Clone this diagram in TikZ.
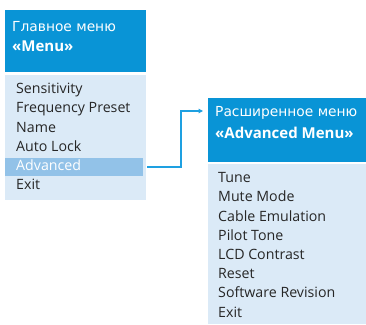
\documentclass[tikz,border=0pt]{standalone}
\usepackage{fontspec}
\setmainfont{Open Sans}
\newfontfamily\headfont{DejaVu Sans}
\usetikzlibrary{arrows.meta, positioning}

\definecolor{headblue}{RGB}{9,148,214}
\definecolor{bodyblue}{RGB}{219,234,247}
\definecolor{selblue}{RGB}{146,194,232}
\definecolor{linkblue}{RGB}{30,160,225}

\tikzset{
  menuhead/.style={fill=headblue, draw=none, anchor=north west, inner sep=0pt},
  menubody/.style={fill=bodyblue, draw=none, anchor=north west, inner sep=0pt},
  headtext/.style={anchor=west, inner sep=0pt, text=white, font=\headfont\fontsize{13.8}{16}\selectfont},
  headname/.style={anchor=west, inner sep=0pt, text=white, font=\fontsize{15}{17}\selectfont\bfseries},
  item/.style={anchor=west, inner sep=0pt, text=black!85, text height=10pt, text depth=3pt,
    font=\fontsize{14.2}{16}\selectfont},
  link/.style={draw=linkblue, line width=1.2pt, -{Triangle[length=4.5pt, width=4.5pt]}}
}

\begin{document}
\begin{tikzpicture}[x=1pt, y=-1pt]
    \useasboundingbox (0,0) rectangle (366,324);

    % Main menu - left side
    \node[menuhead, minimum width=141pt, minimum height=62pt] (mainhead) at (5,10) {};
    \node[menubody, minimum width=141pt, minimum height=125pt] (mainbody) at (5,75) {};
    \node[headtext] (maintitle) at (12,27) {Главное меню};
    \node[headname] (mainname) at (12,46) {«Menu»};
    % highlighted entry
    \node[fill=selblue, anchor=north west, inner sep=0pt, minimum width=138pt, minimum height=18pt] (sel) at (5,158) {};
    \foreach \txt [count=\i] in {Sensitivity, Frequency Preset, Name, Auto Lock}
        \node[item] (main\i) at (16,{71+19.2*\i}) {\txt};
    \node[item, text=white] (main5) at (16,167) {Advanced};
    \node[item] (main6) at (16,186.2) {Exit};

    % Advanced menu - right side
    \node[menuhead, minimum width=158pt, minimum height=64pt] (advhead) at (208,98) {};
    \node[menubody, minimum width=158pt, minimum height=160pt] (advbody) at (208,164) {};
    \node[headtext] (advtitle) at (215,113) {Расширенное меню};
    \node[headname] (advname) at (215,133) {«Advanced Menu»};
    \foreach \txt [count=\i] in {Tune, Mute Mode, Cable Emulation, Pilot Tone, LCD Contrast, Reset, Software Revision, Exit}
        \node[item] (adv\i) at (218,{160+19.2*\i}) {\txt};

    % Connector
    \coordinate (linkout) at (147,167);
    \coordinate (linkin) at (203,111);
    \draw[link] (linkout) -- (181,167) |- (linkin);
\end{tikzpicture}
\end{document}
